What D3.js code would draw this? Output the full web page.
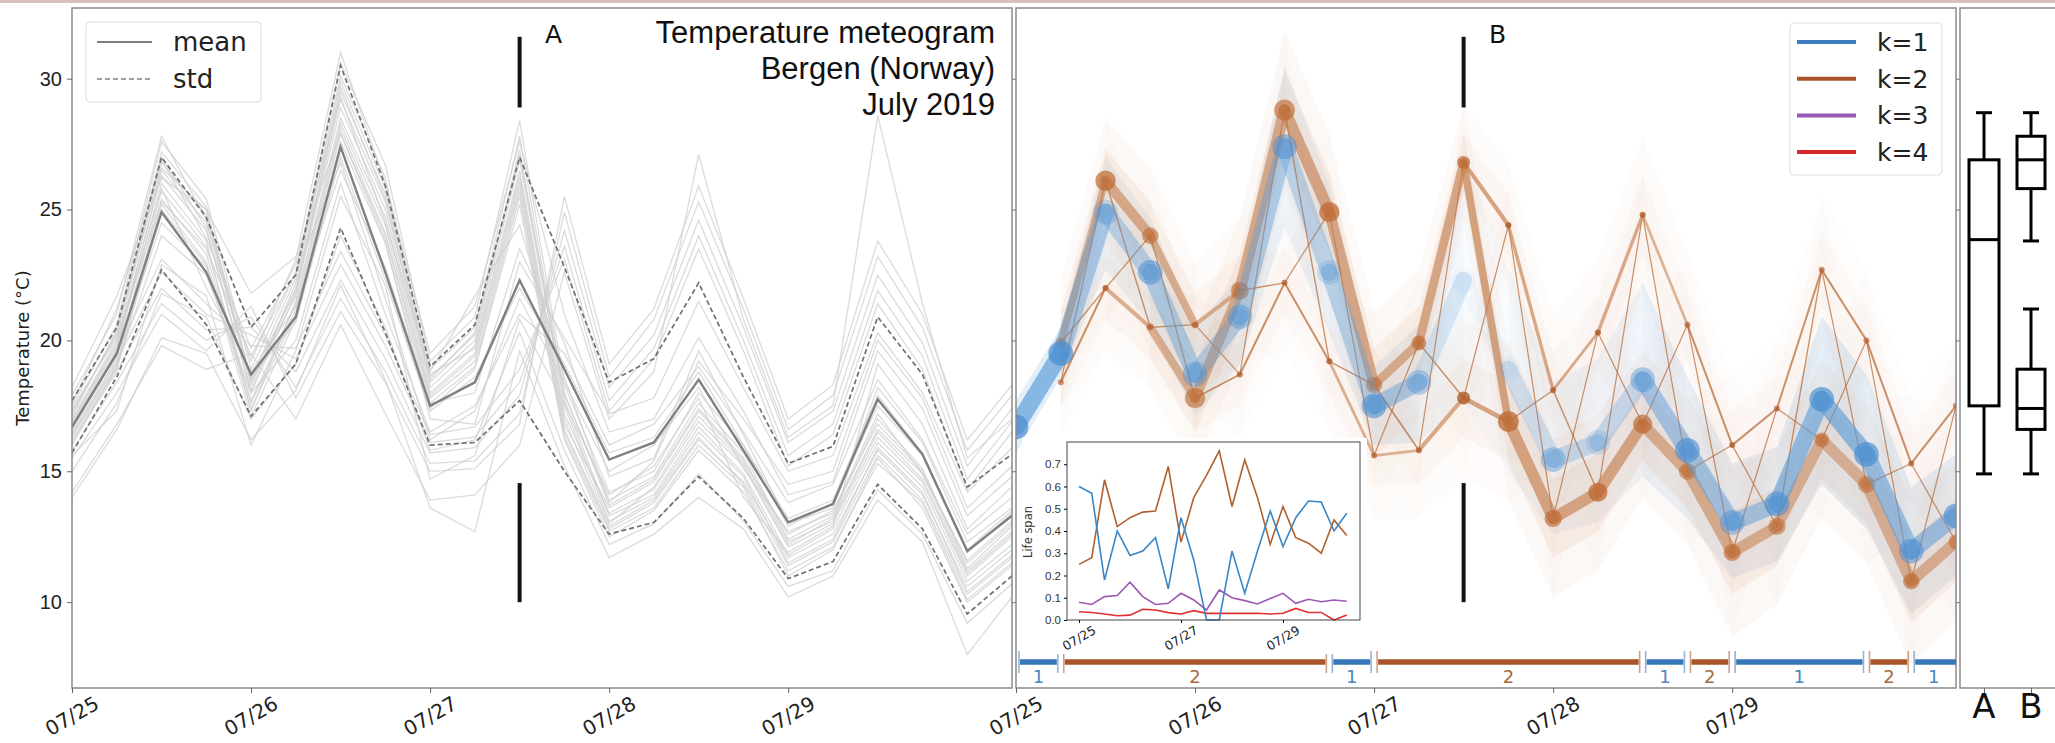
<!DOCTYPE html>
<html><head><meta charset="utf-8">
<script src="https://cdn.jsdelivr.net/npm/d3@7"></script>
<style>
html,body{margin:0;padding:0;background:#fff;}
svg{display:block;font-family:"DejaVu Sans",sans-serif;}
</style></head><body>
<svg id="chart" width="2055" height="743"></svg>
<script>
// ---- time axis: 6-hourly forecast steps ----
const times = [
 "2019-07-25T00:00","2019-07-25T06:00","2019-07-25T12:00","2019-07-25T18:00",
 "2019-07-26T00:00","2019-07-26T06:00","2019-07-26T12:00","2019-07-26T18:00",
 "2019-07-27T00:00","2019-07-27T06:00","2019-07-27T12:00","2019-07-27T18:00",
 "2019-07-28T00:00","2019-07-28T06:00","2019-07-28T12:00","2019-07-28T18:00",
 "2019-07-29T00:00","2019-07-29T06:00","2019-07-29T12:00","2019-07-29T18:00",
 "2019-07-30T00:00","2019-07-30T06:00"];
const dayTicks = ["2019-07-25","2019-07-26","2019-07-27","2019-07-28","2019-07-29"];
const insetTicks = ["2019-07-25","2019-07-27","2019-07-29"];
const tempTicks = [10, 15, 20, 25, 30];
const lifeTicks = [0, 0.1, 0.2, 0.3, 0.4, 0.5, 0.6, 0.7];

// ---- ensemble members (°C) ----
const members = [
 [16.9,19.8,26.3,24.2,18.0,21.8,28.9,25.0,18.2,19.8,26.5,17.2,13.4,14.3,16.9,15.2,12.1,13.0,16.3,14.6,11.0,12.5],
 [17.2,20.3,27.2,25.1,18.5,22.4,30.1,26.2,18.9,20.5,27.8,17.9,13.9,14.8,17.6,15.7,12.4,13.3,17.0,15.1,11.3,12.9],
 [16.4,19.1,25.4,23.3,17.6,21.2,28.1,24.1,17.8,19.2,25.7,16.5,12.8,13.8,16.2,14.6,11.7,12.6,15.8,14.1,10.6,12.0],
 [17.0,20.0,26.8,24.8,18.3,22.0,29.5,25.6,18.6,20.2,27.3,17.5,13.1,14.0,16.5,14.8,11.5,12.4,15.9,14.2,10.4,11.8],
 [16.6,19.6,26.0,23.8,17.3,21.5,28.5,24.7,18.0,19.5,26.1,16.8,13.6,14.6,17.3,15.4,12.6,13.5,16.8,15.0,11.5,13.0],
 [17.5,20.6,27.6,25.4,18.9,22.6,30.6,26.7,19.2,20.9,28.4,18.3,14.2,15.0,18.0,16.0,12.9,13.8,17.5,15.6,11.9,13.4],
 [16.2,18.9,25.0,22.9,17.1,20.8,27.6,23.7,17.4,18.9,25.2,16.2,12.5,13.5,15.8,14.2,11.2,12.1,15.3,13.8,10.1,11.5],
 [16.8,19.7,26.5,24.5,18.6,21.9,29.2,25.3,18.4,20.0,26.9,17.7,13.3,14.1,16.7,14.9,11.8,12.8,16.1,14.4,10.8,12.2],
 [17.3,20.2,27.0,24.3,18.1,22.2,29.9,25.8,18.7,19.7,26.3,17.0,13.0,14.4,17.1,15.3,12.2,13.2,16.6,14.9,11.2,12.7],
 [16.5,19.3,25.7,23.6,17.7,21.4,28.3,24.4,17.9,19.4,25.9,16.6,12.9,13.9,16.3,14.5,11.4,12.3,15.6,13.9,10.3,11.7],
 [17.1,20.4,26.6,25.0,18.4,21.7,29.7,25.4,18.5,20.3,27.1,18.0,13.7,14.7,17.4,15.5,12.3,13.1,16.5,14.7,11.1,12.6],
 [16.3,19.0,25.2,23.0,17.4,21.0,27.9,24.0,17.6,19.0,25.5,16.3,12.7,13.6,16.0,14.4,11.0,12.0,15.5,13.6,10.0,11.4],
 [16.1,18.8,22.0,20.4,20.5,18.8,22.3,19.3,15.7,15.9,17.9,24.2,18.2,20.2,24.6,20.5,16.1,17.3,22.5,19.9,15.2,17.4],
 [15.8,18.4,21.4,20.0,20.9,18.2,21.6,18.8,15.3,15.4,17.2,24.9,18.6,20.8,25.3,21.2,16.6,17.9,23.2,20.5,15.8,17.9],
 [16.4,19.2,22.6,21.0,20.2,19.3,22.9,19.8,16.1,16.3,18.4,23.6,17.7,19.7,24.0,20.0,15.6,16.8,21.9,19.4,14.7,16.9],
 [15.5,18.0,21.0,19.6,21.3,17.8,21.1,18.4,15.0,15.1,16.8,25.5,19.1,21.2,25.9,21.6,17.0,18.3,23.8,21.0,16.2,18.3],
 [16.6,19.5,23.1,21.4,19.8,19.7,23.4,20.2,16.4,16.7,18.9,23.1,17.3,19.3,23.5,19.6,15.2,16.4,21.4,18.9,14.3,16.5],
 [14.2,16.8,19.8,18.9,19.5,17.0,20.6,17.2,13.9,14.1,16.0,22.6,17.0,18.8,27.1,20.8,16.3,17.5,28.6,21.4,15.5,17.0],
 [16.7,19.4,24.5,22.8,18.6,20.7,27.0,22.3,17.3,18.6,22.0,19.1,15.7,16.3,18.8,16.0,13.2,13.9,17.9,15.7,12.0,13.5],
 [17.9,21.0,27.8,24.6,19.2,23.1,31.0,26.0,19.5,21.3,27.6,21.0,16.5,17.0,20.1,17.3,14.1,14.6,19.6,17.4,13.3,14.8],
 [15.0,17.6,21.8,20.9,17.0,19.1,24.0,20.5,15.8,16.2,20.3,15.8,12.2,13.0,14.9,13.1,10.6,11.2,14.3,12.6,9.2,10.7],
 [16.0,19.0,24.0,22.5,18.0,20.0,26.0,21.0,16.5,17.5,21.0,19.5,16.0,16.8,19.0,16.5,13.8,14.5,18.5,16.2,12.6,14.0],
 [14.0,16.6,20.1,19.5,16.2,18.1,22.1,18.5,13.6,12.7,19.6,15.2,11.7,12.6,14.0,12.8,10.2,11.0,13.9,12.3,8.0,10.2],
 [18.2,21.7,26.2,25.0,21.8,23.2,27.9,23.8,17.0,16.8,23.0,20.1,17.2,17.8,21.5,18.2,15.0,15.6,20.3,18.0,14.2,15.9],
 [16.9,19.9,25.8,22.0,18.8,21.3,26.5,22.8,17.6,18.0,23.5,19.9,14.8,15.5,19.6,16.4,13.0,13.6,18.2,16.1,12.3,13.6],
 [17.4,20.1,25.3,23.5,19.4,22.6,26.8,21.6,16.2,17.3,21.6,18.4,15.0,16.0,18.2,15.1,12.7,13.4,17.2,14.9,11.6,13.1],
 [15.6,17.3,22.9,21.7,16.0,19.6,25.5,22.1,14.7,15.6,20.8,17.6,14.1,15.2,17.8,14.0,11.9,12.9,19.1,16.8,12.8,14.4],
 [17.6,21.2,26.9,23.9,19.7,22.9,29.3,24.5,18.8,21.7,24.4,18.6,13.8,15.4,19.2,17.0,14.5,15.0,20.0,17.8,13.6,15.2]
];
const meanTemp  = [16.7,19.5,24.9,22.6,18.7,20.9,27.4,22.6,17.5,18.4,22.3,18.9,15.45,16.1,18.5,15.8,13.05,13.75,17.75,15.65,11.95,13.3];
const stdUpper  = [17.7,20.5,27.0,24.7,20.5,22.5,30.5,25.9,19.0,20.6,27.0,22.8,18.4,19.3,22.2,18.6,15.3,15.95,20.9,18.7,14.4,15.65];
const stdLower  = [15.7,18.6,22.7,20.6,17.1,19.1,24.3,20.3,16.0,16.1,17.7,15.0,12.6,13.05,14.8,13.2,10.9,11.55,14.5,12.8,9.55,11.0];

// ---- k=2 clustering: centroid temperatures, sizes and transitions ----
const k2MainTemp   = [null,19.9,26.1,24.0,17.8,21.9,28.8,24.9,18.3,19.9,26.8,16.9,13.2,14.2,16.8,15.0,11.9,12.9,16.2,14.5,10.8,12.3];
const k2MinorTemp  = [null,18.4,22.0,20.5,20.6,18.7,22.2,19.2,15.6,15.8,17.8,24.4,18.1,20.3,24.8,20.6,16.0,17.4,22.7,20.0,15.3,17.5];
const k2MainCount  = [0,10,34,22,34,26,36,34,22,18,14,36,24,30,30,24,24,24,18,24,22,18];
const k2MinorCount = [0,3,3,3,3,3,3,3,3,3,14,3,3,3,3,3,3,3,3,3,3,3];
const k2MainSpread = [0,1.2,1.2,1.3,1.3,1.4,1.5,1.5,1.4,1.4,1.1,1.5,1.5,1.5,1.4,1.4,1.6,1.5,1.5,1.5,1.6,1.5];
const k2MinorSpread= [0,1.0,1.2,1.2,1.2,1.2,1.3,1.3,1.2,1.3,1.5,1.2,1.4,1.4,1.5,1.4,1.3,1.3,1.4,1.3,1.3,1.3];
// members moving between clusters from step t to t+1 (main/minor)
const trMM = [0,20,30,3,30,34,34,32,26,26,22,34,34,34,34,34,33,33,34,34,33];
const trMN = [0,4,4,22,5,4,4,3,5,4,12,3,2,2,2,3,2,4,2,2,2];
const trNM = [0,2,2,24,12,2,2,2,3,2,14,3,4,2,3,2,2,2,3,2,2];
const trNN = [0,6,12,2,2,6,6,8,8,12,2,10,8,10,8,6,6,6,6,6,6];
const ensembleSize = 50;

// ---- life span of each clustering ----
const lifeK1 = [0.60,0.57,0.18,0.40,0.29,0.31,0.37,0.14,0.46,0.27,0.00,0.00,0.31,0.12,0.31,0.49,0.33,0.46,0.535,0.53,0.40,0.48];
const lifeK2 = [0.25,0.28,0.63,0.42,0.46,0.485,0.49,0.69,0.35,0.55,0.65,0.76,0.51,0.72,0.55,0.34,0.51,0.37,0.345,0.30,0.45,0.38];
const lifeK3 = [0.08,0.07,0.105,0.11,0.17,0.105,0.07,0.075,0.12,0.09,0.045,0.135,0.10,0.087,0.072,0.097,0.12,0.075,0.093,0.082,0.09,0.084];
const lifeK4 = [0.037,0.034,0.027,0.019,0.022,0.048,0.045,0.033,0.027,0.042,0.03,0.03,0.03,0.03,0.03,0.027,0.03,0.052,0.034,0.034,0.0,0.022];

// ---- selected number of clusters along time ----
const segK    = [1,2,1,2,1,2,1,2,1];
const segFrom = [0,1,7,8,14,15,16,19,20];
const segTo   = [1,7,8,14,15,16,19,20,21];

// ---- distributions at the marked time (2019-07-27 12h) ----
const markerStep = 10;
const markerSpans = [[28.9,31.6],[10.0,14.55]];
const boxA  = [14.9,17.5,23.85,26.9,28.7];
const boxB1 = [23.8,25.8,26.9,27.8,28.7];
const boxB2 = [14.9,16.6,17.4,18.9,21.2];

const titleLines = ["Temperature meteogram","Bergen (Norway)","July 2019"];
const kLabels = ["k=1","k=2","k=3","k=4"];

// ---------------------------------------------------------------
const C1 = "#3b7dbf", C2 = "#a9552b", C3 = "#9b59b6", C4 = "#d62728";
const svg = d3.select("#chart");
const parseT = d3.timeParse("%Y-%m-%dT%H:%M");
const parseD = d3.timeParse("%Y-%m-%d");
const fmt = d3.timeFormat("%m/%d");
const tD = times.map(parseT);
const yTop = 8, yBot = 688;
const yT = d3.scaleLinear().domain([6.72, 32.7]).range([yBot, yTop]);
const xL = d3.scaleTime().domain(d3.extent(tD)).range([72, 1012]);
const xM = d3.scaleTime().domain(d3.extent(tD)).range([1016, 1956]);

svg.append("rect").attr("x",0).attr("y",0).attr("width",2055).attr("height",3).attr("fill","#d8c0c0");

const defs = svg.append("defs");
defs.append("clipPath").attr("id","clipL").append("rect").attr("x",72).attr("y",yTop).attr("width",940).attr("height",yBot-yTop);
defs.append("clipPath").attr("id","clipM").append("rect").attr("x",1016).attr("y",yTop).attr("width",940).attr("height",yBot-yTop);

function dateLabels(g, xs, ticks, y, size){
  g.selectAll(null).data(ticks).join("text")
    .attr("transform", d => `translate(${xs(parseD(d))},${y}) rotate(-30)`)
    .attr("text-anchor","middle").attr("dominant-baseline","central")
    .attr("fill","#222").style("font-size", size+"px")
    .text(d => fmt(parseD(d)));
}

// ================= left panel: ensemble meteogram =================
const gL = svg.append("g");
const gLc = gL.append("g").attr("clip-path","url(#clipL)");
const lineL = d3.line().x((d,i) => xL(tD[i])).y(d => yT(d));
gLc.selectAll("path.member").data(members).join("path").attr("class","member")
  .attr("d", lineL).attr("fill","none").attr("stroke","#cfcfcf")
  .attr("stroke-opacity",0.75).attr("stroke-width",1.3);
[stdUpper, stdLower].forEach(s => gLc.append("path").attr("d", lineL(s))
  .attr("fill","none").attr("stroke","#6f6f6f").attr("stroke-width",1.7).attr("stroke-dasharray","5,3"));
gLc.append("path").attr("d", lineL(meanTemp)).attr("fill","none").attr("stroke","#808080").attr("stroke-width",2.4);

gL.append("rect").attr("x",72).attr("y",yTop).attr("width",940).attr("height",yBot-yTop)
  .attr("fill","none").attr("stroke","#8a8a8a").attr("stroke-width",1.5);
const axY = gL.append("g").attr("transform","translate(72,0)")
  .call(d3.axisLeft(yT).tickValues(tempTicks).tickSize(5).tickPadding(5));
axY.select(".domain").remove();
axY.selectAll("line").attr("stroke","#666");
axY.selectAll("text").style("font-size","20px").attr("fill","#222");
const axXL = gL.append("g").attr("transform",`translate(0,${yBot})`)
  .call(d3.axisBottom(xL).tickValues(dayTicks.map(parseD)).tickSize(5).tickFormat(""));
axXL.select(".domain").remove(); axXL.selectAll("line").attr("stroke","#666");
dateLabels(gL, xL, dayTicks, 716, 20);
gL.append("text").attr("transform","translate(22,348) rotate(-90)").attr("text-anchor","middle")
  .attr("dominant-baseline","central").style("font-size","18px").attr("fill","#222").text("Temperature (°C)");

// legend mean / std
gL.append("rect").attr("x",86).attr("y",22).attr("width",175).attr("height",80).attr("rx",4)
  .attr("fill","#fff").attr("fill-opacity",0.85).attr("stroke","#dcdcdc");
gL.append("line").attr("x1",97).attr("x2",152).attr("y1",42).attr("y2",42).attr("stroke","#808080").attr("stroke-width",2.2);
gL.append("line").attr("x1",97).attr("x2",152).attr("y1",79).attr("y2",79).attr("stroke","#808080").attr("stroke-width",1.7).attr("stroke-dasharray","5,3");
gL.append("text").attr("x",173).attr("y",51).style("font-size","26px").attr("fill","#222").text("mean");
gL.append("text").attr("x",173).attr("y",88).style("font-size","26px").attr("fill","#222").text("std");

// title
gL.append("g").selectAll("text").data(titleLines).join("text")
  .attr("x",995).attr("y",(d,i) => 43 + i*36).attr("text-anchor","end")
  .style("font-family","'Liberation Sans',Arial,sans-serif").style("font-size","31px").attr("fill","#111").text(d => d);

// marker at the selected time
function marker(g, xs, label){
  const x = xs(tD[markerStep]);
  markerSpans.forEach(s => g.append("line").attr("x1",x).attr("x2",x)
    .attr("y1",yT(s[1])).attr("y2",yT(s[0])).attr("stroke","#111").attr("stroke-width",4));
  g.append("text").attr("x",x+34).attr("y",43).attr("text-anchor","middle")
    .style("font-size","25px").attr("fill","#111").text(label);
}
marker(gL, xL, "A");

// ================= middle panel: cluster persistence =================
const gM = svg.append("g");
const gMc = gM.append("g").attr("clip-path","url(#clipM)");
const X = t => xM(tD[t]);
const aK1 = t => Math.min(0.8, 0.05 + 1.3*lifeK1[t]);
const aK2 = t => 0.4 + 0.5*lifeK2[t];
const wOf = n => Math.max(1.2, 0.34*n);
const rOf = n => Math.max(2.6, 1.75*Math.sqrt(n));

function quad(t, a, sa, b, sb){
  return `M${X(t)},${yT(a+sa)}L${X(t+1)},${yT(b+sb)}L${X(t+1)},${yT(b-sb)}L${X(t)},${yT(a-sa)}Z`;
}

// blue (k=1) spread band
for (let t = 0; t < 21; t++){
  const a = (lifeK1[t] + lifeK1[t+1]) / 2;
  gMc.append("path").attr("d",
    `M${X(t)},${yT(stdUpper[t])}L${X(t+1)},${yT(stdUpper[t+1])}L${X(t+1)},${yT(stdLower[t+1])}L${X(t)},${yT(stdLower[t])}Z`)
    .attr("fill","#8fbbe3").attr("fill-opacity", 0.05 + 0.35*a);
}

// brown (k=2) edges
const k2Edges = [];
for (let t = 1; t < 21; t++){
  const M = k2MainTemp, m = k2MinorTemp, sM = k2MainSpread, sm = k2MinorSpread;
  k2Edges.push({t, a:M[t], sa:sM[t], b:M[t+1], sb:sM[t+1], n:trMM[t]});
  k2Edges.push({t, a:M[t], sa:sM[t], b:m[t+1], sb:sm[t+1], n:trMN[t]});
  k2Edges.push({t, a:m[t], sa:sm[t], b:M[t+1], sb:sM[t+1], n:trNM[t]});
  k2Edges.push({t, a:m[t], sa:sm[t], b:m[t+1], sb:sm[t+1], n:trNN[t]});
}
k2Edges.forEach(e => {
  gMc.append("path").attr("d", quad(e.t, e.a, e.sa*2.0, e.b, e.sb*2.0))
    .attr("fill","#e3b89a").attr("fill-opacity", 0.02 + 0.0022*e.n);
  gMc.append("path").attr("d", quad(e.t, e.a, e.sa, e.b, e.sb))
    .attr("fill","#d9a07a").attr("fill-opacity", 0.02 + 0.0035*e.n);
});
k2Edges.slice().sort((p,q) => p.n - q.n).forEach(e => {
  const thin = e.n < 7;
  gMc.append("line").attr("x1",X(e.t)).attr("y1",yT(e.a)).attr("x2",X(e.t+1)).attr("y2",yT(e.b))
    .attr("stroke", thin ? "#b5652f" : "#c67d4b").attr("stroke-width", wOf(e.n))
    .attr("stroke-linecap","round")
    .attr("stroke-opacity", thin ? 0.7 : (aK2(e.t) + aK2(e.t+1))/2 * 0.9);
});
for (let t = 1; t < 22; t++){
  gMc.append("circle").attr("cx",X(t)).attr("cy",yT(k2MainTemp[t])).attr("r",rOf(k2MainCount[t]))
    .attr("fill","#bd6a34").attr("fill-opacity",aK2(t));
  gMc.append("circle").attr("cx",X(t)).attr("cy",yT(k2MinorTemp[t])).attr("r",rOf(k2MinorCount[t]))
    .attr("fill","#b05e2c").attr("fill-opacity",Math.min(0.9, aK2(t)+0.1));
}

// blue (k=1) path = whole ensemble
for (let t = 0; t < 21; t++){
  gMc.append("line").attr("x1",X(t)).attr("y1",yT(meanTemp[t])).attr("x2",X(t+1)).attr("y2",yT(meanTemp[t+1]))
    .attr("stroke","#5a9bd8").attr("stroke-width", wOf(ensembleSize)).attr("stroke-linecap","round")
    .attr("stroke-opacity", (aK1(t) + aK1(t+1))/2 * 0.85);
}
for (let t = 0; t < 22; t++){
  gMc.append("circle").attr("cx",X(t)).attr("cy",yT(meanTemp[t])).attr("r",rOf(ensembleSize))
    .attr("fill","#4a8dd0").attr("fill-opacity",aK1(t)*0.9);
}

// frame and axes
gM.append("rect").attr("x",1016).attr("y",yTop).attr("width",940).attr("height",yBot-yTop)
  .attr("fill","none").attr("stroke","#8a8a8a").attr("stroke-width",1.5);
const axYM = gM.append("g").attr("transform","translate(1016,0)")
  .call(d3.axisLeft(yT).tickValues(tempTicks).tickSize(4).tickFormat(""));
axYM.select(".domain").remove(); axYM.selectAll("line").attr("stroke","#777");
const axXM = gM.append("g").attr("transform",`translate(0,${yBot})`)
  .call(d3.axisBottom(xM).tickValues(dayTicks.map(parseD)).tickSize(5).tickFormat(""));
axXM.select(".domain").remove(); axXM.selectAll("line").attr("stroke","#666");
dateLabels(gM, xM, dayTicks, 716, 20);

marker(gM, xM, "B");

// k legend
gM.append("rect").attr("x",1790).attr("y",23).attr("width",152).attr("height",152).attr("rx",4)
  .attr("fill","#fff").attr("fill-opacity",0.85).attr("stroke","#dcdcdc");
const kCols = [C1, C2, C3, C4];
kLabels.forEach((k,i) => {
  const y = 42 + i*36.7;
  gM.append("line").attr("x1",1797).attr("x2",1856).attr("y1",y).attr("y2",y).attr("stroke",kCols[i]).attr("stroke-width",4);
  gM.append("text").attr("x",1877).attr("y",y+9).style("font-size","25px").attr("fill","#222").text(k);
});

// timeline of the selected number of clusters
const gTL = gM.append("g");
const tlY = 662;
const segCol = k => k === 1 ? "#3677b8" : "#a9542a";
const segTxt = k => k === 1 ? "#4a86c0" : "#a8693f";
segK.forEach((k,i) => {
  const x0 = X(segFrom[i]) + 4, x1 = segTo[i] >= 21 ? X(21) : X(segTo[i]) - 4;
  gTL.append("line").attr("x1",x0).attr("x2",x1).attr("y1",tlY).attr("y2",tlY)
    .attr("stroke",segCol(k)).attr("stroke-width",5.5);
  gTL.append("line").attr("x1",x0-1).attr("x2",x0-1).attr("y1",tlY-11).attr("y2",tlY+11)
    .attr("stroke",segCol(k)).attr("stroke-opacity",0.55).attr("stroke-width",1.6);
  if (segTo[i] < 21) gTL.append("line").attr("x1",x1+1).attr("x2",x1+1).attr("y1",tlY-11).attr("y2",tlY+11)
    .attr("stroke",segCol(k)).attr("stroke-opacity",0.55).attr("stroke-width",1.6);
  gTL.append("text").attr("x",(X(segFrom[i]) + X(Math.min(segTo[i],21)))/2).attr("y",tlY+21)
    .attr("text-anchor","middle").style("font-size","18px").attr("fill",segTxt(k)).text(k);
});

// inset: life span of each k
const gI = gM.append("g");
gI.append("rect").attr("x",1022).attr("y",438).attr("width",345).attr("height",216).attr("fill","#fff");
const xI = d3.scaleTime().domain(d3.extent(tD)).range([1079, 1346.75]);
const yI = d3.scaleLinear().domain([0, 0.8]).range([620, 442]);
const lineI = d3.line().x((d,i) => xI(tD[i])).y(d => yI(d));
[[lifeK3,C3],[lifeK4,"#e03030"],[lifeK2,"#b0602f"],[lifeK1,"#3a87c8"]].forEach(([s,c]) =>
  gI.append("path").attr("d", lineI(s)).attr("fill","none").attr("stroke",c).attr("stroke-width",1.6));
gI.append("rect").attr("x",1067).attr("y",442).attr("width",293).attr("height",178)
  .attr("fill","none").attr("stroke","#444").attr("stroke-width",1);
const axYI = gI.append("g").attr("transform","translate(1067,0)")
  .call(d3.axisLeft(yI).tickValues(lifeTicks).tickSize(3).tickPadding(3).tickFormat(d3.format(".1f")));
axYI.select(".domain").remove();
axYI.selectAll("text").style("font-size","11.5px").attr("fill","#333");
const axXI = gI.append("g").attr("transform","translate(0,620)")
  .call(d3.axisBottom(xI).tickValues(insetTicks.map(parseD)).tickSize(3).tickFormat(""));
axXI.select(".domain").remove();
dateLabels(gI, xI, insetTicks, 638, 12.5);
gI.append("text").attr("transform","translate(1028,532) rotate(-90)").attr("text-anchor","middle")
  .attr("dominant-baseline","central").style("font-size","11.5px").attr("fill","#333").text("Life span");

// ================= right panel: box plots =================
const gR = svg.append("g");
gR.append("rect").attr("x",1960).attr("y",yTop).attr("width",120).attr("height",yBot-yTop)
  .attr("fill","none").attr("stroke","#8a8a8a").attr("stroke-width",1.5);
const axYR = gR.append("g").attr("transform","translate(1960,0)")
  .call(d3.axisLeft(yT).tickValues(tempTicks).tickSize(4).tickFormat(""));
axYR.select(".domain").remove(); axYR.selectAll("line").attr("stroke","#777");
const xR = d3.scalePoint().domain(["A","B"]).range([1984, 2031]);
const axXR = gR.append("g").attr("transform",`translate(0,${yBot})`)
  .call(d3.axisBottom(xR).tickSize(5).tickFormat(""));
axXR.select(".domain").remove(); axXR.selectAll("line").attr("stroke","#666");
gR.selectAll("text.bl").data(xR.domain()).join("text").attr("class","bl")
  .attr("x", d => xR(d)).attr("y",718).attr("text-anchor","middle")
  .style("font-size","34px").attr("fill","#111").text(d => d);
function box(cx, s, w){
  const g = gR.append("g").attr("stroke","#000").attr("stroke-width",3).attr("fill","#fff");
  g.append("line").attr("x1",cx).attr("x2",cx).attr("y1",yT(s[0])).attr("y2",yT(s[1]));
  g.append("line").attr("x1",cx).attr("x2",cx).attr("y1",yT(s[3])).attr("y2",yT(s[4]));
  g.append("line").attr("x1",cx-8).attr("x2",cx+8).attr("y1",yT(s[0])).attr("y2",yT(s[0]));
  g.append("line").attr("x1",cx-8).attr("x2",cx+8).attr("y1",yT(s[4])).attr("y2",yT(s[4]));
  g.append("rect").attr("x",cx-w/2).attr("width",w).attr("y",yT(s[3])).attr("height",yT(s[1])-yT(s[3]));
  g.append("line").attr("x1",cx-w/2).attr("x2",cx+w/2).attr("y1",yT(s[2])).attr("y2",yT(s[2]));
}
box(xR("A"), boxA, 30);
box(xR("B"), boxB1, 28);
box(xR("B"), boxB2, 28);
</script>
</body></html>
